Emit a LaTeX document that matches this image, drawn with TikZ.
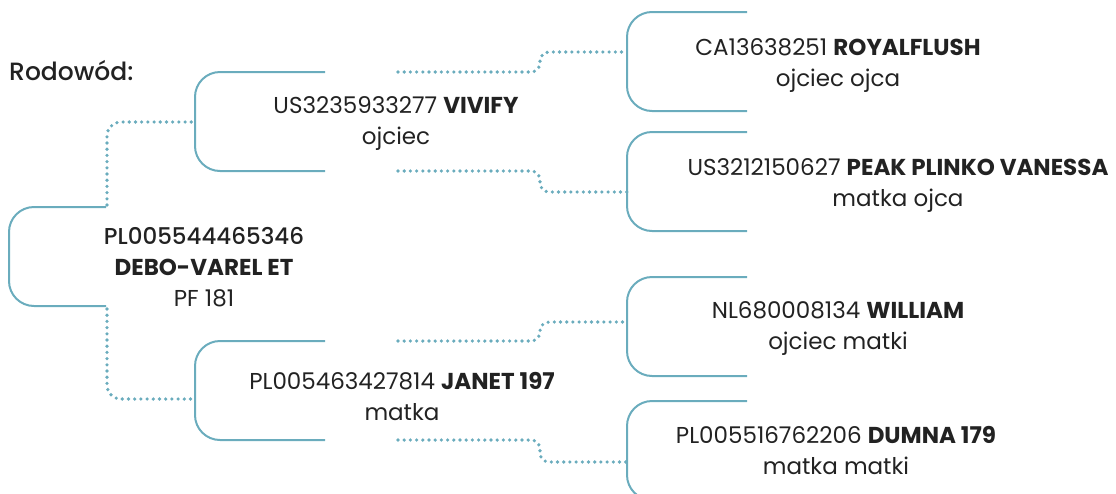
\documentclass[tikz,border=0pt]{standalone}
\usepackage{fontspec}
\setmainfont{Poppins}
\newfontfamily\medfont{Poppins Medium}
\definecolor{teal}{RGB}{106,172,189}
\definecolor{ink}{RGB}{34,34,34}
\tikzset{
  bracket/.style={draw=teal, line width=2pt, rounded corners=25pt},
  link/.style={draw=teal, line width=3.6pt, line cap=round, dash pattern=on 0pt off 6.2pt},
  label/.style={text=ink, align=center, font=\fontsize{23}{31}\selectfont, inner sep=0pt},
}
\begin{document}
\begin{tikzpicture}[x=1pt,y=-1pt]
\useasboundingbox (0,0) rectangle (1116,493);
\clip (0,0) rectangle (1116,493);
\node[label, anchor=west, font=\fontsize{25}{31}\selectfont] (title) at (9,71) {\medfont Rodowód:};
% brackets
\coordinate (r-t) at (106,207); \coordinate (r-b) at (106,306);
\draw[bracket] (r-t) -- (9,207) -- (9,306) -- (r-b);
\coordinate (f-t) at (325,72); \coordinate (f-b) at (325,171); \coordinate (f-in) at (195,122);
\draw[bracket] (f-t) -- (195,72) -- (195,171) -- (f-b);
\coordinate (m-t) at (325,341); \coordinate (m-b) at (325,440); \coordinate (m-in) at (195,399);
\draw[bracket] (m-t) -- (195,341) -- (195,440) -- (m-b);
\foreach \n/\t/\c in {ff/12/52, fm/132/192, mf/277/322, mm/401/462}{
  \draw[bracket] (747,\t) -- (627,\t) -- (627,\t+99) -- (747,\t+99);
  \coordinate (\n-in) at (627,\c);
}
% texts
\node[label] (root) at (204,267) {{\medfont PL005544465346}\\\textbf{DEBO-VAREL ET}\\PF 181};
\node[label] (father) at (396,124) {US3235933277 \textbf{VIVIFY}\\ojciec};
\node[label] (mother) at (402,397) {PL005463427814 \textbf{JANET 197}\\matka};
\node[label] (ff) at (838,65) {CA13638251 \textbf{ROYALFLUSH}\\ojciec ojca};
\node[label] (fm) at (898,185) {US3212150627 \textbf{PEAK PLINKO VANESSA}\\matka ojca};
\node[label] (mf) at (838,328) {NL680008134 \textbf{WILLIAM}\\ojciec matki};
\node[label] (mm) at (836,451) {PL005516762206 \textbf{DUMNA 179}\\matka matki};
% dotted links
\coordinate (r-up) at (107,205); \coordinate (r-dn) at (107,309);
\draw[link, rounded corners=14pt] (r-up) |- (f-in);
\draw[link, rounded corners=14pt] (r-dn) |- (m-in);
\coordinate (f-o1) at (398,72); \coordinate (f-o2) at (398,171);
\coordinate (m-o1) at (398,341); \coordinate (m-o2) at (398,440);
\draw[link, rounded corners=9pt] (f-o1) -- (540,72) |- (ff-in);
\draw[link, rounded corners=9pt] (f-o2) -- (540,171) |- (fm-in);
\draw[link, rounded corners=9pt] (m-o1) -- (540,341) |- (mf-in);
\draw[link, rounded corners=9pt] (m-o2) -- (540,440) |- (mm-in);
\end{tikzpicture}
\end{document}
